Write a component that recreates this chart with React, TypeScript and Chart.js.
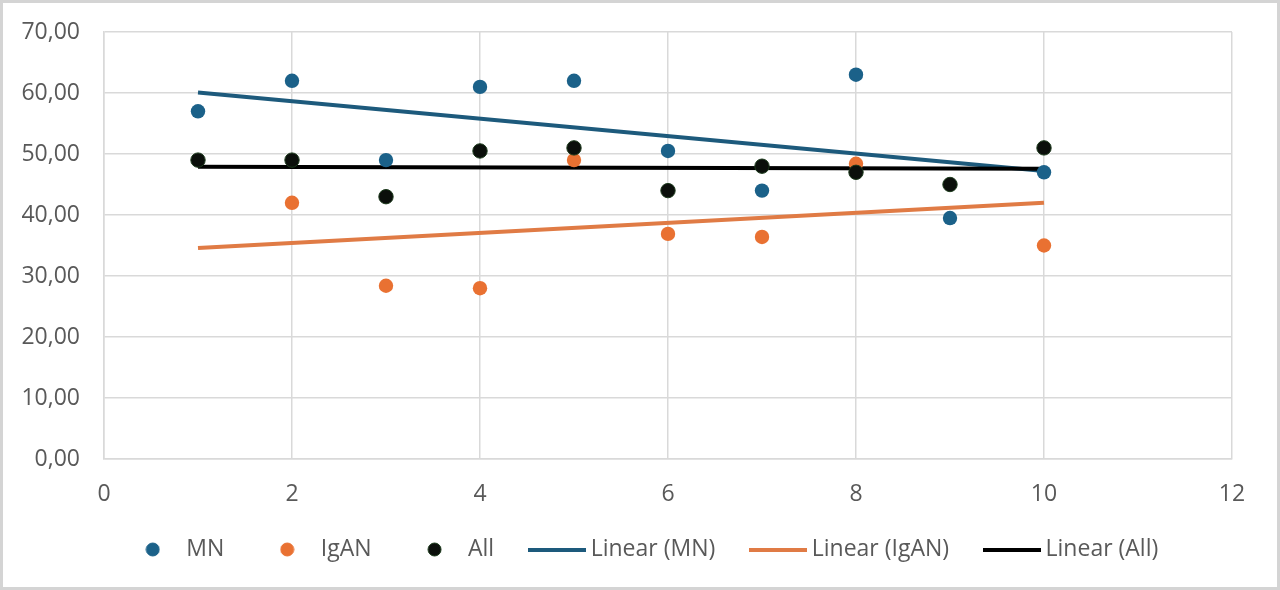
import React, { useEffect, useRef } from "react";
import { Chart, registerables } from "chart.js";

Chart.register(...registerables);

const xValues = [1, 2, 3, 4, 5, 6, 7, 8, 9, 10];
const mnValues = [57, 62, 49, 61, 62, 50.5, 44, 63, 39.5, 47];
const iganValues: (number | null)[] = [null, 42, 28.4, 28, 49, 36.9, 36.4, 48.4, null, 35];
const allValues = [49, 49, 43, 50.5, 51, 44, 48, 47, 45, 51];

const trendX = [1, 10];
const trendMN = [60.1, 47.2];
const trendIgAN = [34.6, 42.0];
const trendAll = [47.9, 47.6];

const seriesNames = ["MN", "IgAN", "All", "Linear (MN)", "Linear (IgAN)", "Linear (All)"];

const BLUE = "#1b6189";
const ORANGE = "#e97132";
const BLACK = "#0b0f0b";
const LINE_BLUE = "#1d5a7c";
const LINE_ORANGE = "#e07b45";
const LINE_BLACK = "#000000";
const TEXT = "#595959";
const GRID = "#d9d9d9";
const FONT = "'Open Sans', sans-serif";

function toPoints(xs: number[], ys: (number | null)[]) {
  const out: { x: number; y: number }[] = [];
  xs.forEach((x, i) => {
    const y = ys[i];
    if (y !== null && y !== undefined) out.push({ x, y });
  });
  return out;
}

function dotImage(color: string, border: string) {
  const c = document.createElement("canvas");
  c.width = 15;
  c.height = 15;
  const g = c.getContext("2d")!;
  g.beginPath();
  g.arc(7.5, 7.5, 6.5, 0, Math.PI * 2);
  g.fillStyle = color;
  g.fill();
  g.lineWidth = 1;
  g.strokeStyle = border;
  g.stroke();
  return c;
}

function lineImage(color: string) {
  const c = document.createElement("canvas");
  c.width = 58;
  c.height = 4;
  const g = c.getContext("2d")!;
  g.fillStyle = color;
  g.fillRect(0, 0, 58, 4);
  return c;
}

const legendShift = {
  id: "legendShift",
  afterLayout(chart: any) {
    const lg = chart.legend;
    if (!lg) return;
    lg.left += 27;
    lg.right += 27;
    lg.top -= 16;
    lg.bottom -= 16;
  },
};

export default function App() {
  const ref = useRef<HTMLCanvasElement | null>(null);

  useEffect(() => {
    document.body.style.margin = "0";
    const canvas = ref.current;
    if (!canvas) return;

    const legendImages = [
      dotImage(BLUE, BLUE),
      dotImage(ORANGE, ORANGE),
      dotImage(BLACK, "#1c3a1c"),
      lineImage(LINE_BLUE),
      lineImage(LINE_ORANGE),
      lineImage(LINE_BLACK),
    ];

    const chart = new Chart(canvas, {
      type: "scatter",
      data: {
        datasets: [
          {
            label: seriesNames[0],
            data: toPoints(xValues, mnValues),
            backgroundColor: BLUE,
            borderColor: BLUE,
            pointRadius: 7.2,
            pointBorderWidth: 0,
            showLine: false,
            order: 3,
          },
          {
            label: seriesNames[1],
            data: toPoints(xValues, iganValues),
            backgroundColor: ORANGE,
            borderColor: ORANGE,
            pointRadius: 7.2,
            pointBorderWidth: 0,
            showLine: false,
            order: 2,
          },
          {
            label: seriesNames[2],
            data: toPoints(xValues, allValues),
            backgroundColor: BLACK,
            borderColor: "#1c3a1c",
            pointRadius: 7.2,
            pointBorderWidth: 1,
            showLine: false,
            order: 1,
          },
          {
            label: seriesNames[3],
            data: toPoints(trendX, trendMN),
            borderColor: LINE_BLUE,
            backgroundColor: LINE_BLUE,
            borderWidth: 4,
            pointRadius: 0,
            showLine: true,
            order: 6,
          },
          {
            label: seriesNames[4],
            data: toPoints(trendX, trendIgAN),
            borderColor: LINE_ORANGE,
            backgroundColor: LINE_ORANGE,
            borderWidth: 4,
            pointRadius: 0,
            showLine: true,
            order: 5,
          },
          {
            label: seriesNames[5],
            data: toPoints(trendX, trendAll),
            borderColor: LINE_BLACK,
            backgroundColor: LINE_BLACK,
            borderWidth: 4,
            pointRadius: 0,
            showLine: true,
            order: 4,
          },
        ] as any,
      },
      options: {
        animation: false,
        responsive: true,
        maintainAspectRatio: false,
        devicePixelRatio: 1,
        layout: { padding: { left: 0, right: 45, top: 29, bottom: 0 } },
        scales: {
          x: {
            type: "linear",
            min: 0,
            max: 12,
            ticks: {
              stepSize: 2,
              color: TEXT,
              font: { family: FONT, size: 23 },
              padding: 22,
            },
            grid: { color: GRID, lineWidth: 1.5, drawTicks: false },
            border: { color: GRID, width: 1.5 },
            afterFit: (s: any) => {
              s.height = 54;
              s.paddingLeft = 0;
              s.paddingRight = 0;
            },
          },
          y: {
            min: 0,
            max: 70,
            ticks: {
              stepSize: 10,
              color: TEXT,
              font: { family: FONT, size: 23 },
              padding: 24,
              callback: (v: any) => Number(v).toFixed(2).replace(".", ","),
            },
            grid: { color: GRID, lineWidth: 1.5, drawTicks: false },
            border: { color: GRID, width: 1.5 },
            afterFit: (s: any) => {
              s.width = 101;
              s.paddingTop = 0;
              s.paddingBottom = 0;
            },
          },
        },
        plugins: {
          tooltip: { enabled: false },
          legend: {
            position: "bottom",
            labels: {
              usePointStyle: true,
              pointStyleWidth: 44,
              padding: 41,
              color: TEXT,
              font: { family: FONT, size: 23 },
              generateLabels: (ch: any) =>
                ch.data.datasets.map((ds: any, i: number) => ({
                  text: ds.label,
                  fillStyle: ds.backgroundColor,
                  strokeStyle: ds.borderColor,
                  lineWidth: 0,
                  pointStyle: legendImages[i],
                  fontColor: TEXT,
                  hidden: false,
                  datasetIndex: i,
                })),
            },
          },
        },
      },
      plugins: [legendShift],
    });

    return () => {
      chart.destroy();
    };
  }, []);

  return (
    <div
      style={{
        width: 1280,
        height: 590,
        boxSizing: "border-box",
        border: "3px solid #d4d4d4",
        background: "#ffffff",
      }}
    >
      <div style={{ position: "relative", width: 1274, height: 584 }}>
        <canvas ref={ref} />
      </div>
    </div>
  );
}
